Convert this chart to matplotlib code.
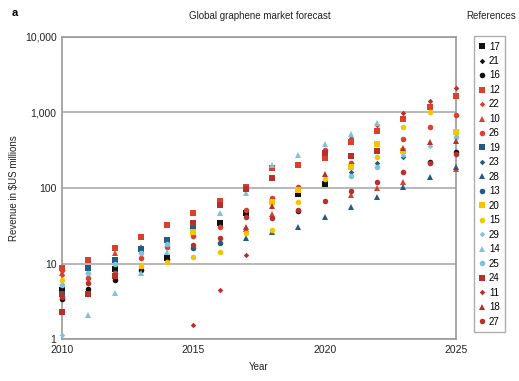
import matplotlib
matplotlib.use("Agg")
import matplotlib.pyplot as plt
from matplotlib.ticker import FuncFormatter
import numpy as np

plt.rcParams['font.family'] = ['Liberation Sans', 'DejaVu Sans']

# dane: lata i prognozy (mln USD), None = brak prognozy
years = [2010, 2011, 2012, 2013, 2014, 2015, 2016, 2017,
         2018, 2019, 2020, 2021, 2022, 2023, 2024, 2025]

ref17 = [4.4, None, 8.5, None, 12, None, 34, 46, None, 83, 113, None, None, None, None, None]
ref21 = [3.7, None, None, None, None, None, None, None, None, None, None, None, None, None, None, None]
ref16 = [3.4, 4.6, 6.0, 8.2, 11.5, None, None, None, None, 50, None, None, None, None, 220, 300]
ref12 = [8.7, 11.1, 16, 22.4, 32.3, 46.6, 67, 103, 183, 200, 250, 405, 570, 820, 1190, 1650]
ref22 = [7.0, None, None, None, None, None, None, None, None, None, None, 460, 690, None, None, None]
ref10 = [7.5, None, 13.7, 16.5, None, None, None, 28.6, 45, None, None, 80, 100, 120, None, 180]
ref26 = [8.2, 6.5, 7.5, 11.8, 16.5, 23, 30.5, 51, 73, 103, 320, 213, None, 445, 645, 930]
ref19 = [3.9, 8.7, 11.1, 15.6, 20.5, 28.6, None, None, None, None, None, None, None, None, None, None]
ref23 = [None, None, None, None, None, None, None, None, None, None, None, 163, 213, 260, None, None]
ref28 = [None, None, None, None, None, None, None, 21.7, 26, 30, 41, 56, 76, 103, 140, 190]
ref13 = [None, None, None, None, None, 16, 18.7, None, None, None, None, None, None, None, None, None]
ref20 = [None, None, None, None, None, 26, None, None, 65, 95, None, 190, 380, 310, None, 550]
ref15 = [6.0, None, None, 9.3, 10.5, 12.2, 14.2, 25, 28, 65, 131, None, 258, 640, 1010, None]
ref29 = [1.13, None, None, None, None, None, None, None, None, None, None, None, None, 275, 360, None]
ref14 = [None, 2.1, 4.1, 7.5, 14, None, 46.6, 86, 201, 273, 380, 520, 725, None, None, None]
ref25 = [5.2, 7.5, 10, 13.7, 18, None, None, None, None, None, None, 143, 190, None, None, 475]
ref24 = [2.28, 3.95, 6.8, None, None, 34.4, 60, 97, 135, None, 290, 265, 310, None, None, None]
ref11 = [None, None, None, None, None, 1.53, 4.4, 13, None, None, None, None, None, 980, 1420, 2100]
ref18 = [4.1, None, None, None, None, None, None, 30, 58, None, 153, None, None, 337, 405, 420]
ref27 = [3.6, 5.5, None, None, None, 17.5, 21.7, 41, 40, 51, 67, 91, 120, 163, 213, 280]

labels = ['17', '21', '16', '12', '22', '10', '26', '19', '23', '28',
          '13', '20', '15', '29', '14', '25', '24', '11', '18', '27']
series = [ref17, ref21, ref16, ref12, ref22, ref10, ref26, ref19, ref23, ref28,
          ref13, ref20, ref15, ref29, ref14, ref25, ref24, ref11, ref18, ref27]

# style: kolor i marker dla kazdej serii
black = '#111111'
red = '#d9412f'
dblue = '#1f5e82'
yellow = '#f6c500'
lblue = '#80c2dc'
dred = '#b8302c'
colors = [black, black, black, red, red, red, red, dblue, dblue, dblue,
          dblue, yellow, yellow, lblue, lblue, lblue, dred, dred, dred, dred]
markers = ['s', 'D', 'o', 's', 'D', '^', 'o', 's', 'D', '^',
           'o', 's', 'o', 'D', '^', 'o', 's', 'D', '^', 'o']
sizes = {'s': 3.8, 'D': 2.8, 'o': 4.0, '^': 4.0}

fig = plt.figure(figsize=(5.19, 3.81), dpi=100)
ax = fig.add_axes([0.1195, 0.1102, 0.7591, 0.7927])

for lab, vals, c, m in zip(labels, series, colors, markers):
    x = [yr for yr, v in zip(years, vals) if v is not None]
    y = [v for v in vals if v is not None]
    ax.plot(x, y, linestyle='none', marker=m, color=c, markersize=sizes[m],
            markeredgewidth=0, label=lab, clip_on=False, zorder=3)

ax.set_yscale('log')
ax.set_ylim(1, 10000)
ax.set_xlim(2010, 2025)
ax.set_xticks([2010, 2015, 2020, 2025])
ax.set_yticks([1, 10, 100, 1000, 10000])
ax.yaxis.set_major_formatter(FuncFormatter(lambda v, p: f'{int(v):,}'))
ax.yaxis.set_minor_locator(matplotlib.ticker.NullLocator())
ax.tick_params(length=0, labelsize=7.5, pad=4, colors='#222222')
ax.grid(axis='y', color='#aaaaaa', linewidth=1.2)
for s in ax.spines.values():
    s.set_color('#999999')
    s.set_linewidth(1.2)

ax.set_xlabel('Year', fontsize=7, color='#222222', labelpad=5)
ax.set_ylabel('Revenue in $US millions', fontsize=7, color='#222222', labelpad=4)

fig.text(0.5, 0.957, 'Global graphene market forecast', ha='center', va='center',
         fontsize=7, color='#222222')
fig.text(0.994, 0.957, 'References', ha='right', va='center', fontsize=7, color='#222222')
fig.text(0.022, 0.965, 'a', ha='left', va='center', fontsize=8, fontweight='bold')

leg = fig.legend(loc='upper left', bbox_to_anchor=(0.913, 0.905), fontsize=7,
                 frameon=True, fancybox=False, edgecolor='#999999',
                 handlelength=0.6, handletextpad=0.4, labelspacing=0.46,
                 borderpad=0.55, borderaxespad=0, markerscale=1.0)
leg.get_frame().set_linewidth(1.0)

fig.savefig('out.png', dpi=100)
